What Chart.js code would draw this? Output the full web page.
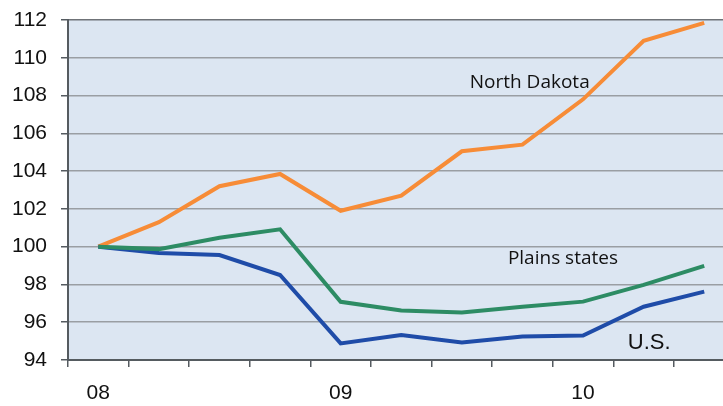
<!DOCTYPE html>
<html>
<head>
<meta charset="utf-8">
<script src="https://cdn.jsdelivr.net/npm/chart.js@4/dist/chart.umd.min.js"></script>
<style>
  html, body { margin: 0; padding: 0; background: #ffffff; overflow: hidden; }
  #wrap { width: 723px; height: 406px; }
</style>
</head>
<body>
<div id="wrap"><canvas id="c" width="723" height="406"></canvas></div>
<script>
// Quarterly index, first quarter of 2008 = 100
const quarters = ['08Q1','08Q2','08Q3','08Q4','09Q1','09Q2','09Q3','09Q4','10Q1','10Q2','10Q3'];
const yearLabels = { 0: '08', 4: '09', 8: '10' };
const northDakota = [100, 101.3, 103.2, 103.85, 101.9, 102.7, 105.05, 105.4, 107.8, 110.9, 111.85];
const plainsStates = [100, 99.87, 100.47, 100.92, 97.08, 96.62, 96.52, 96.82, 97.09, 97.98, 98.98];
const unitedStates = [100, 99.66, 99.56, 98.5, 94.88, 95.32, 94.93, 95.24, 95.3, 96.82, 97.62];
const yTicks = [94, 96, 98, 100, 102, 104, 106, 108, 110, 112];

const toPoints = arr => arr.map((v, i) => ({ x: i, y: v }));

// Series names written next to their lines
const seriesNotes = [
  { text: 'North Dakota', x: 7.12, y: 108.4, align: 'center', font: '19px "Open Sans", "Noto Sans", sans-serif' },
  { text: 'Plains states', x: 6.76, y: 99.08, align: 'left', font: '19px "Open Sans", "Noto Sans", sans-serif' },
  { text: 'U.S.', x: 8.74, y: 94.58, align: 'left', font: '22px "Liberation Sans", Arial, sans-serif' }
];

const plotBackground = {
  id: 'plotBackground',
  beforeDraw(chart) {
    const { ctx, chartArea: a } = chart;
    ctx.save();
    ctx.fillStyle = '#dce6f2';
    ctx.fillRect(a.left, a.top, a.right - a.left, a.bottom - a.top);
    ctx.restore();
  }
};

const notes = {
  id: 'notes',
  afterDatasetsDraw(chart) {
    const { ctx, scales } = chart;
    ctx.save();
    ctx.fillStyle = '#111111';
    ctx.textBaseline = 'alphabetic';
    seriesNotes.forEach(n => {
      ctx.font = n.font;
      ctx.textAlign = n.align;
      ctx.fillText(n.text, scales.x.getPixelForValue(n.x), scales.y.getPixelForValue(n.y));
    });
    ctx.restore();
  }
};

new Chart(document.getElementById('c'), {
  type: 'line',
  data: {
    datasets: [
      { label: 'Plains states', data: toPoints(plainsStates), borderColor: '#2d8c64' },
      { label: 'U.S.', data: toPoints(unitedStates), borderColor: '#1f4ca8' },
      { label: 'North Dakota', data: toPoints(northDakota), borderColor: '#f78c37' }
    ].map(d => Object.assign(d, { borderWidth: 4, pointRadius: 0, tension: 0, fill: false }))
  },
  options: {
    responsive: false,
    animation: false,
    layout: { padding: { top: 20, right: 0, left: 0, bottom: 0 } },
    plugins: { legend: { display: false }, tooltip: { enabled: false } },
    scales: {
      x: {
        type: 'linear',
        min: -0.5,
        max: 10.31,
        afterBuildTicks(scale) {
          const t = [];
          for (let v = -0.5; v <= 9.5; v += 0.5) t.push({ value: v });
          scale.ticks = t;
        },
        afterFit(scale) { scale.height = 46; scale.paddingLeft = 0; scale.paddingRight = 0; },
        ticks: {
          autoSkip: false,
          maxRotation: 0,
          padding: 14,
          color: '#111111',
          font: { family: '"Liberation Sans", Arial, sans-serif', size: 21 },
          callback: v => (yearLabels[v] !== undefined ? yearLabels[v] : '')
        },
        grid: {
          drawOnChartArea: false,
          tickLength: 7,
          lineWidth: 1.5,
          color: ctx => (ctx.tick && ctx.tick.value % 1 !== 0 ? '#555b60' : 'rgba(0,0,0,0)')
        },
        border: { display: true, color: '#555b60', width: 2 }
      },
      y: {
        min: 94,
        max: 112,
        afterBuildTicks(scale) { scale.ticks = yTicks.map(v => ({ value: v })); },
        afterFit(scale) { scale.width = 68; scale.paddingTop = 0; scale.paddingBottom = 0; },
        ticks: {
          padding: 14,
          color: '#111111',
          font: { family: '"Liberation Sans", Arial, sans-serif', size: 21 }
        },
        grid: {
          color: ctx => (ctx.tick && ctx.tick.value === 112 ? '#6f7378' : '#9a9ea3'),
          lineWidth: 1.5,
          tickLength: 7,
          tickColor: '#555b60'
        },
        border: { display: true, color: '#555b60', width: 2 }
      }
    }
  },
  plugins: [plotBackground, notes]
});
</script>
</body>
</html>
